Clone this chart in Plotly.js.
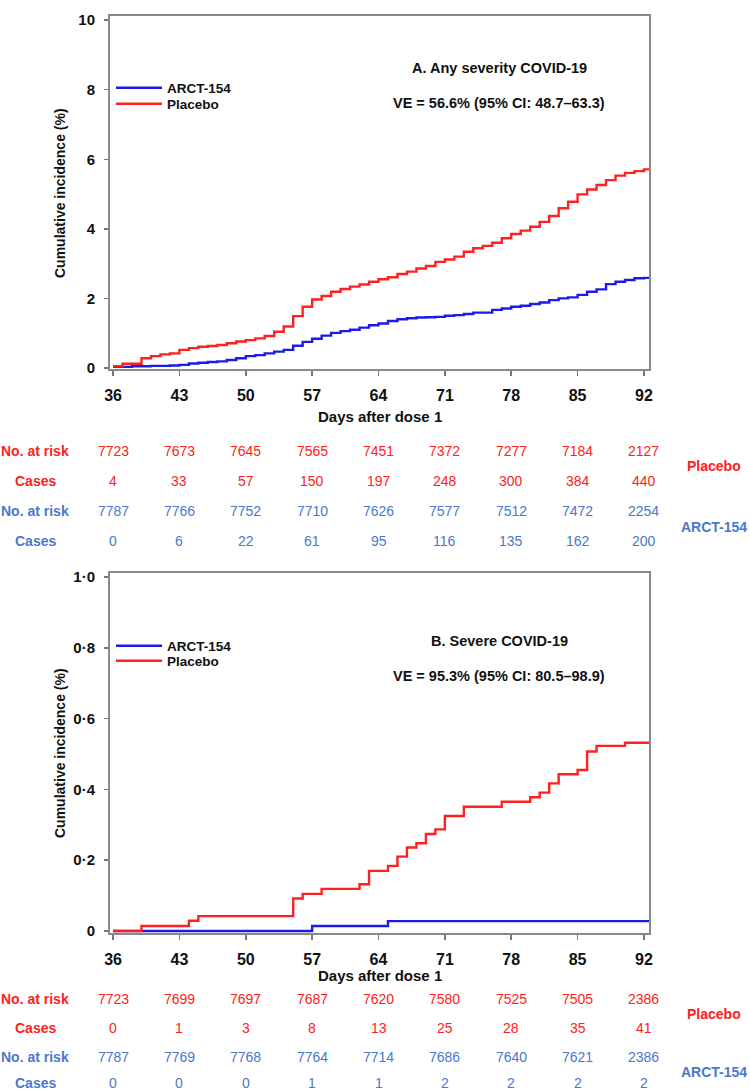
<!DOCTYPE html>
<html>
<head>
<meta charset="utf-8">
<script src="https://cdn.plot.ly/plotly-3.0.1.min.js"></script>
<style>html,body{margin:0;padding:0;background:#fff;}#chart{width:750px;height:1092px;}</style>
</head>
<body>
<div id="chart"></div>
<script>
// ---- Data ----
const tickDays = [36, 43, 50, 57, 64, 71, 78, 85, 92];

// Panel A: any severity COVID-19 (step change days and cumulative incidence %)
const aPlaceboDays = [36,37,39,40,41,42,43,44,45,46,47,48,49,50,51,52,53,54,55,56,57,58,59,60,61,62,63,64,65,66,67,68,69,70,71,72,73,74,75,76,77,78,79,80,81,82,83,84,85,86,87,88,89,90,91,92];
const aPlaceboVals = [0.05,0.12,0.28,0.34,0.39,0.42,0.52,0.57,0.61,0.63,0.66,0.71,0.76,0.80,0.85,0.92,1.04,1.19,1.49,1.76,1.97,2.07,2.19,2.27,2.34,2.40,2.48,2.55,2.61,2.70,2.77,2.86,2.93,3.05,3.12,3.20,3.34,3.44,3.51,3.60,3.73,3.85,3.95,4.06,4.20,4.37,4.59,4.78,4.99,5.13,5.26,5.40,5.53,5.61,5.66,5.71];
const aArctDays = [36,38,40,42,43,44,45,46,47,48,49,50,51,52,53,54,55,56,57,58,59,60,61,62,63,64,65,66,67,68,69,70,71,72,73,74,76,77,78,79,80,81,82,83,84,85,86,87,88,89,90,91,92];
const aArctVals = [0.03,0.05,0.06,0.07,0.09,0.13,0.15,0.17,0.19,0.23,0.28,0.34,0.37,0.42,0.47,0.52,0.64,0.75,0.84,0.93,1.01,1.06,1.10,1.16,1.23,1.28,1.35,1.40,1.43,1.45,1.46,1.47,1.50,1.52,1.55,1.59,1.67,1.71,1.76,1.79,1.84,1.88,1.95,2.00,2.03,2.10,2.19,2.26,2.41,2.48,2.53,2.58,2.59];

// Panel B: severe COVID-19
const bPlaceboDays = [36,39,44,45,55,56,58,62,63,65,66,67,68,69,70,71,73,77,80,81,82,83,85,86,87,90];
const bPlaceboVals = [0,0.014,0.029,0.042,0.092,0.105,0.119,0.132,0.170,0.184,0.210,0.236,0.248,0.274,0.287,0.325,0.351,0.365,0.378,0.391,0.417,0.443,0.455,0.507,0.523,0.532];
const bArctDays = [36,57,65];
const bArctVals = [0,0.014,0.028];

// Risk tables
const aPlaceboRisk  = [7723,7673,7645,7565,7451,7372,7277,7184,2127];
const aPlaceboCases = [4,33,57,150,197,248,300,384,440];
const aArctRisk     = [7787,7766,7752,7710,7626,7577,7512,7472,2254];
const aArctCases    = [0,6,22,61,95,116,135,162,200];
const bPlaceboRisk  = [7723,7699,7697,7687,7620,7580,7525,7505,2386];
const bPlaceboCases = [0,1,3,8,13,25,28,35,41];
const bArctRisk     = [7787,7769,7768,7764,7714,7686,7640,7621,2386];
const bArctCases    = [0,0,0,1,1,2,2,2,2];

const aYTicks = [0,2,4,6,8,10];
const aYTickText = ['0','2','4','6','8','10'];
const bYTicks = [0,0.2,0.4,0.6,0.8,1.0];
const bYTickText = ['0','0·2','0·4','0·6','0·8','1·0'];

// ---- Styling ----
const W = 750, H = 1092;
const px = v => v / W;
const py = v => 1 - v / H;
const RED = '#ff2020', BLUE = '#1c1ce8', TBLUE = '#4a78cc';
const FONT = 'Liberation Sans, Arial, sans-serif';
const NARROW = 'Liberation Sans Narrow, Arial Narrow, Liberation Sans, Arial, sans-serif';
const xEnd = 92.53;

function ext(days, vals) { return { x: days.concat([xEnd]), y: vals.concat([vals[vals.length - 1]]) }; }

function stepTrace(days, vals, name, color, xa, ya, leg) {
  const d = ext(days, vals);
  return { x: d.x, y: d.y, type: 'scatter', mode: 'lines', line: { shape: 'hv', color: color, width: 2.4 },
    name: name, xaxis: xa, yaxis: ya, legend: leg, showlegend: true, hoverinfo: 'skip' };
}

const traces = [
  stepTrace(aArctDays, aArctVals, 'ARCT-154', BLUE, 'x', 'y', 'legend'),
  stepTrace(aPlaceboDays, aPlaceboVals, 'Placebo', RED, 'x', 'y', 'legend2'),
  stepTrace(bArctDays, bArctVals, 'ARCT-154', BLUE, 'x2', 'y2', 'legend3'),
  stepTrace(bPlaceboDays, bPlaceboVals, 'Placebo', RED, 'x2', 'y2', 'legend4')
];

function xAxis(anchor) {
  return { domain: [px(110), px(649)], range: [35.68, xEnd], anchor: anchor,
    tickvals: tickDays, ticktext: tickDays.map(String), ticks: 'outside', ticklen: 5, tickwidth: 1.5, tickcolor: '#777',
    showline: true, mirror: true, linecolor: '#8a8a8a', linewidth: 2, showgrid: false, zeroline: false,
    tickfont: { family: NARROW, size: 16, weight: 'bold', color: '#111' }, ticklabelstandoff: 6, fixedrange: true };
}
function yAxis(dom, range, tv, tt, anchor) {
  return { domain: dom, range: range, anchor: anchor, tickvals: tv, ticktext: tt, ticks: 'outside', ticklen: 4, tickwidth: 1.5, tickcolor: '#777',
    showline: true, mirror: true, linecolor: '#8a8a8a', linewidth: 2, showgrid: false, zeroline: false,
    tickfont: { family: FONT, size: 15, weight: 'bold', color: '#111' }, ticklabelstandoff: 6, fixedrange: true };
}

const annotations = [];
function ann(text, x, y, opts) {
  annotations.push(Object.assign({ text: text, x: x, y: y, xref: 'paper', yref: 'paper', showarrow: false,
    xanchor: 'center', yanchor: 'middle', font: { family: FONT, size: 13, weight: 'bold', color: '#111' } }, opts || {}));
}

const titleFont = { family: FONT, size: 14.5, weight: 'bold', color: '#111' };
ann('A. Any severity COVID-19', px(499), py(68), { font: titleFont });
ann('VE = 56.6% (95% CI: 48.7–63.3)', px(499), py(103), { font: titleFont });
ann('B. Severe COVID-19', px(499), py(641), { font: titleFont });
ann('VE = 95.3% (95% CI: 80.5–98.9)', px(499), py(676), { font: titleFont });
const axTitleFont = { family: FONT, size: 14, weight: 'bold', color: '#111' };
ann('Cumulative incidence (%)', px(60), py(193), { textangle: -90, font: axTitleFont });
ann('Cumulative incidence (%)', px(60), py(753), { textangle: -90, font: axTitleFont });
ann('Days after dose 1', px(380), py(416), { font: { family: NARROW, size: 15, weight: 'bold', color: '#111' } });
ann('Days after dose 1', px(380), py(975), { font: { family: NARROW, size: 15, weight: 'bold', color: '#111' } });

// Risk tables
function tableRows(xref, rowsY, rows, groupY) {
  const labels = ['No. at risk', 'Cases', 'No. at risk', 'Cases'];
  const colors = [RED, RED, TBLUE, TBLUE];
  rows.forEach((arr, r) => {
    ann(labels[r], px(35), py(rowsY[r]), { font: { family: NARROW, size: 14, weight: 'bold', color: colors[r] } });
    arr.forEach((v, i) => {
      annotations.push({ text: String(v), x: tickDays[i], y: py(rowsY[r]), xref: xref, yref: 'paper', showarrow: false,
        xanchor: 'center', yanchor: 'middle', font: { family: NARROW, size: 14, color: colors[r] } });
    });
  });
  ann('Placebo', px(714), py(groupY[0]), { font: { family: NARROW, size: 14, weight: 'bold', color: RED } });
  ann('ARCT-154', px(714), py(groupY[1]), { font: { family: NARROW, size: 14, weight: 'bold', color: TBLUE } });
}
tableRows('x', [451, 481, 511, 541], [aPlaceboRisk, aPlaceboCases, aArctRisk, aArctCases], [466, 527]);
tableRows('x2', [999, 1028, 1057, 1083], [bPlaceboRisk, bPlaceboCases, bArctRisk, bArctCases], [1014, 1072]);

const legendStyle = (yMid) => ({ x: px(111), y: py(yMid), xanchor: 'left', yanchor: 'middle', bgcolor: 'rgba(0,0,0,0)',
  borderwidth: 0, font: { family: FONT, size: 13.5, weight: 'bold', color: '#111' }, itemwidth: 46 });

const layout = {
  width: W, height: H, margin: { l: 0, r: 0, t: 0, b: 0 }, paper_bgcolor: '#fff', plot_bgcolor: '#fff',
  xaxis: xAxis('y'),
  yaxis: yAxis([py(369), py(16)], [-0.03, 10.12], aYTicks, aYTickText, 'x'),
  xaxis2: xAxis('y2'),
  yaxis2: yAxis([py(933), py(573)], [-0.0056, 1.0113], bYTicks, bYTickText, 'x2'),
  legend: legendStyle(88),
  legend2: legendStyle(104),
  legend3: legendStyle(646),
  legend4: legendStyle(661),
  annotations: annotations
};

Plotly.newPlot('chart', traces, layout, { staticPlot: true, displayModeBar: false });
</script>
</body>
</html>
